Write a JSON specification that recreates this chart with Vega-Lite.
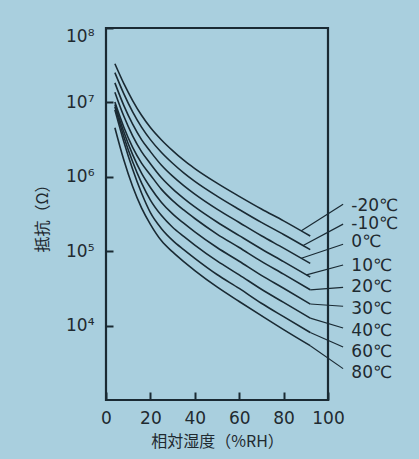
{
  "$schema": "https://vega.github.io/schema/vega-lite/v6.json",
  "width": 222,
  "height": 372,
  "autosize": {"type": "none"},
  "padding": {"left": 106, "top": 28, "right": 91, "bottom": 59},
  "background": "#a9cfde",
  "config": {
    "view": {"stroke": "#1a2a33", "strokeWidth": 2.2, "fill": null},
    "font": "DejaVu Sans",
    "axis": {
      "domain": false,
      "grid": false,
      "ticks": true,
      "tickColor": "#1a2a33",
      "tickWidth": 2,
      "tickOpacity": 1,
      "labelFont": "DejaVu Sans",
      "labelFontSize": 17,
      "labelColor": "#1f2a30",
      "titleFont": "Noto Sans CJK JP",
      "titleFontSize": 16,
      "titleFontWeight": "normal",
      "titleColor": "#1f2a30"
    }
  },
  "datasets": {
    "curves": [
      {"T": "-20℃", "RH": 4, "R": 3.31e7}, {"T": "-20℃", "RH": 8, "R": 1.80e7}, {"T": "-20℃", "RH": 12, "R": 1.06e7}, {"T": "-20℃", "RH": 16, "R": 6.71e6}, {"T": "-20℃", "RH": 20, "R": 4.60e6}, {"T": "-20℃", "RH": 25, "R": 3.13e6}, {"T": "-20℃", "RH": 30, "R": 2.25e6}, {"T": "-20℃", "RH": 35, "R": 1.67e6}, {"T": "-20℃", "RH": 40, "R": 1.29e6}, {"T": "-20℃", "RH": 50, "R": 8.22e5}, {"T": "-20℃", "RH": 60, "R": 5.46e5}, {"T": "-20℃", "RH": 70, "R": 3.69e5}, {"T": "-20℃", "RH": 80, "R": 2.56e5}, {"T": "-20℃", "RH": 92, "R": 1.60e5},
      {"T": "-10℃", "RH": 4, "R": 2.51e7}, {"T": "-10℃", "RH": 8, "R": 1.31e7}, {"T": "-10℃", "RH": 12, "R": 7.45e6}, {"T": "-10℃", "RH": 16, "R": 4.65e6}, {"T": "-10℃", "RH": 20, "R": 3.16e6}, {"T": "-10℃", "RH": 25, "R": 2.12e6}, {"T": "-10℃", "RH": 30, "R": 1.52e6}, {"T": "-10℃", "RH": 35, "R": 1.13e6}, {"T": "-10℃", "RH": 40, "R": 8.69e5}, {"T": "-10℃", "RH": 50, "R": 5.51e5}, {"T": "-10℃", "RH": 60, "R": 3.64e5}, {"T": "-10℃", "RH": 70, "R": 2.44e5}, {"T": "-10℃", "RH": 80, "R": 1.68e5}, {"T": "-10℃", "RH": 92, "R": 1.05e5},
      {"T": "0℃", "RH": 4, "R": 1.83e7}, {"T": "0℃", "RH": 8, "R": 9.12e6}, {"T": "0℃", "RH": 12, "R": 5.09e6}, {"T": "0℃", "RH": 16, "R": 3.16e6}, {"T": "0℃", "RH": 20, "R": 2.18e6}, {"T": "0℃", "RH": 25, "R": 1.43e6}, {"T": "0℃", "RH": 30, "R": 1.02e6}, {"T": "0℃", "RH": 35, "R": 7.62e5}, {"T": "0℃", "RH": 40, "R": 5.86e5}, {"T": "0℃", "RH": 50, "R": 3.68e5}, {"T": "0℃", "RH": 60, "R": 2.43e5}, {"T": "0℃", "RH": 70, "R": 1.61e5}, {"T": "0℃", "RH": 80, "R": 1.10e5}, {"T": "0℃", "RH": 92, "R": 6.85e4},
      {"T": "10℃", "RH": 4, "R": 1.37e7}, {"T": "10℃", "RH": 8, "R": 6.55e6}, {"T": "10℃", "RH": 12, "R": 3.55e6}, {"T": "10℃", "RH": 16, "R": 2.18e6}, {"T": "10℃", "RH": 20, "R": 1.50e6}, {"T": "10℃", "RH": 25, "R": 9.71e5}, {"T": "10℃", "RH": 30, "R": 6.89e5}, {"T": "10℃", "RH": 35, "R": 5.14e5}, {"T": "10℃", "RH": 40, "R": 3.94e5}, {"T": "10℃", "RH": 50, "R": 2.47e5}, {"T": "10℃", "RH": 60, "R": 1.62e5}, {"T": "10℃", "RH": 70, "R": 1.07e5}, {"T": "10℃", "RH": 80, "R": 7.24e4}, {"T": "10℃", "RH": 92, "R": 4.49e4},
      {"T": "20℃", "RH": 4, "R": 1.01e7}, {"T": "20℃", "RH": 8, "R": 4.67e6}, {"T": "20℃", "RH": 12, "R": 2.49e6}, {"T": "20℃", "RH": 16, "R": 1.53e6}, {"T": "20℃", "RH": 20, "R": 1.06e6}, {"T": "20℃", "RH": 25, "R": 6.78e5}, {"T": "20℃", "RH": 30, "R": 4.79e5}, {"T": "20℃", "RH": 35, "R": 3.58e5}, {"T": "20℃", "RH": 40, "R": 2.75e5}, {"T": "20℃", "RH": 50, "R": 1.70e5}, {"T": "20℃", "RH": 60, "R": 1.12e5}, {"T": "20℃", "RH": 70, "R": 7.29e4}, {"T": "20℃", "RH": 80, "R": 4.92e4}, {"T": "20℃", "RH": 92, "R": 3.03e4},
      {"T": "30℃", "RH": 4, "R": 9.40e6}, {"T": "30℃", "RH": 8, "R": 4.04e6}, {"T": "30℃", "RH": 12, "R": 1.99e6}, {"T": "30℃", "RH": 16, "R": 1.12e6}, {"T": "30℃", "RH": 20, "R": 7.18e5}, {"T": "30℃", "RH": 25, "R": 4.52e5}, {"T": "30℃", "RH": 30, "R": 3.17e5}, {"T": "30℃", "RH": 35, "R": 2.38e5}, {"T": "30℃", "RH": 40, "R": 1.82e5}, {"T": "30℃", "RH": 50, "R": 1.12e5}, {"T": "30℃", "RH": 60, "R": 7.33e4}, {"T": "30℃", "RH": 70, "R": 4.74e4}, {"T": "30℃", "RH": 80, "R": 3.18e4}, {"T": "30℃", "RH": 92, "R": 1.95e4},
      {"T": "40℃", "RH": 4, "R": 8.71e6}, {"T": "40℃", "RH": 8, "R": 3.49e6}, {"T": "40℃", "RH": 12, "R": 1.59e6}, {"T": "40℃", "RH": 16, "R": 8.28e5}, {"T": "40℃", "RH": 20, "R": 4.86e5}, {"T": "40℃", "RH": 25, "R": 3.01e5}, {"T": "40℃", "RH": 30, "R": 2.10e5}, {"T": "40℃", "RH": 35, "R": 1.58e5}, {"T": "40℃", "RH": 40, "R": 1.21e5}, {"T": "40℃", "RH": 50, "R": 7.40e4}, {"T": "40℃", "RH": 60, "R": 4.81e4}, {"T": "40℃", "RH": 70, "R": 3.08e4}, {"T": "40℃", "RH": 80, "R": 2.05e4}, {"T": "40℃", "RH": 92, "R": 1.26e4},
      {"T": "60℃", "RH": 4, "R": 7.94e6}, {"T": "60℃", "RH": 8, "R": 2.98e6}, {"T": "60℃", "RH": 12, "R": 1.26e6}, {"T": "60℃", "RH": 16, "R": 6.05e5}, {"T": "60℃", "RH": 20, "R": 3.30e5}, {"T": "60℃", "RH": 25, "R": 2.01e5}, {"T": "60℃", "RH": 30, "R": 1.40e5}, {"T": "60℃", "RH": 35, "R": 1.05e5}, {"T": "60℃", "RH": 40, "R": 8.02e4}, {"T": "60℃", "RH": 50, "R": 4.86e4}, {"T": "60℃", "RH": 60, "R": 3.16e4}, {"T": "60℃", "RH": 70, "R": 2.00e4}, {"T": "60℃", "RH": 80, "R": 1.32e4}, {"T": "60℃", "RH": 92, "R": 8.07e3},
      {"T": "80℃", "RH": 4, "R": 4.57e6}, {"T": "80℃", "RH": 8, "R": 1.69e6}, {"T": "80℃", "RH": 12, "R": 7.40e5}, {"T": "80℃", "RH": 16, "R": 3.83e5}, {"T": "80℃", "RH": 20, "R": 2.30e5}, {"T": "80℃", "RH": 25, "R": 1.38e5}, {"T": "80℃", "RH": 30, "R": 9.77e4}, {"T": "80℃", "RH": 35, "R": 7.24e4}, {"T": "80℃", "RH": 40, "R": 5.50e4}, {"T": "80℃", "RH": 50, "R": 3.31e4}, {"T": "80℃", "RH": 60, "R": 2.11e4}, {"T": "80℃", "RH": 70, "R": 1.36e4}, {"T": "80℃", "RH": 80, "R": 8.83e3}, {"T": "80℃", "RH": 92, "R": 5.37e3}
    ],
    "labels": [
      {"T": "-20℃", "RH1": 88, "R1": 1.88e5, "R2": 4.28e5, "RL": 4.06e5},
      {"T": "-10℃", "RH1": 88.8, "R1": 1.19e5, "R2": 2.31e5, "RL": 2.31e5},
      {"T": "0℃", "RH1": 88, "R1": 8.04e4, "R2": 1.24e5, "RL": 1.32e5},
      {"T": "10℃", "RH1": 90.3, "R1": 4.80e4, "R2": 6.52e4, "RL": 6.31e4},
      {"T": "20℃", "RH1": 92, "R1": 3.03e4, "R2": 3.27e4, "RL": 3.30e4},
      {"T": "30℃", "RH1": 92, "R1": 1.95e4, "R2": 1.82e4, "RL": 1.68e4},
      {"T": "40℃", "RH1": 92, "R1": 1.26e4, "R2": 9.27e3, "RL": 8.51e3},
      {"T": "60℃", "RH1": 92, "R1": 8.07e3, "R2": 5.15e3, "RL": 4.46e3},
      {"T": "80℃", "RH1": 92, "R1": 5.37e3, "R2": 2.64e3, "RL": 2.33e3}
    ]
  },
  "layer": [
    {
      "data": {"name": "curves"},
      "mark": {"type": "line", "color": "#1a2a33", "strokeWidth": 1.6, "interpolate": "monotone"},
      "encoding": {
        "x": {
          "field": "RH", "type": "quantitative",
          "scale": {"domain": [0, 100], "nice": false},
          "axis": {
            "values": [0, 20, 40, 60, 80, 100],
            "offset": -8,
            "tickSize": 8,
            "labelPadding": 10,
            "labelFlush": false,
            "title": "相対湿度（%RH）",
            "titlePadding": 7
          }
        },
        "y": {
          "field": "R", "type": "quantitative",
          "scale": {"type": "log", "domain": [1000, 100000000], "nice": false},
          "axis": {
            "values": [10000, 100000, 1000000, 10000000, 100000000],
            "offset": -7,
            "tickSize": 7,
            "labelPadding": 12,
            "labelFlush": true,
            "labelExpr": "'10' + ['⁰','¹','²','³','⁴','⁵','⁶','⁷','⁸'][round(log(datum.value) / LN10)]",
            "title": "抵抗（Ω）",
            "titlePadding": 15
          }
        },
        "detail": {"field": "T"}
      }
    },
    {
      "data": {"name": "labels"},
      "mark": {"type": "rule", "color": "#1a2a33", "strokeWidth": 1.2},
      "encoding": {
        "x": {"field": "RH1", "type": "quantitative"},
        "x2": {"datum": 106.8},
        "y": {"field": "R1", "type": "quantitative"},
        "y2": {"field": "R2"}
      }
    },
    {
      "data": {"name": "labels"},
      "mark": {"type": "text", "align": "left", "baseline": "middle", "fontSize": 17, "font": "DejaVu Sans", "color": "#1f2a30"},
      "encoding": {
        "x": {"datum": 110.5},
        "y": {"field": "RL", "type": "quantitative"},
        "text": {"field": "T"}
      }
    }
  ]
}
